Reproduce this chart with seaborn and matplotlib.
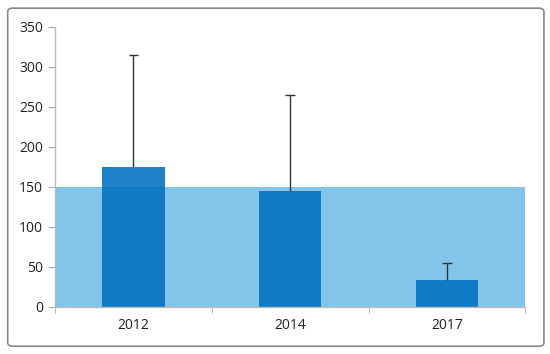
import matplotlib
matplotlib.use("Agg")
import matplotlib.pyplot as plt
import seaborn as sns
import pandas as pd
from matplotlib.patches import FancyBboxPatch

years = ['2012', '2014', '2017']
values = [175, 145, 33]
upper = [315, 265, 54]
band_top = 150

df = pd.DataFrame({'year': years, 'value': values})

sns.set_style('white')
plt.rcParams['font.family'] = ['Open Sans', 'DejaVu Sans']

fig = plt.figure(figsize=(5.5, 3.54), dpi=100)
ax = fig.add_axes([0.1, 0.134, 0.855, 0.79])

ax.axhspan(0, band_top, color='#83C5E8', zorder=1, lw=0)
sns.barplot(data=df, x='year', y='value', color='#0070C0', width=0.4,
            saturation=1, alpha=0.88, ax=ax, zorder=2, errorbar=None, linewidth=0)

# upper-only error bars
xs = list(range(len(years)))
ax.vlines(xs, values, upper, color='#333333', lw=1, zorder=3)
ax.hlines(upper, [x - 0.03 for x in xs], [x + 0.03 for x in xs], color='#333333', lw=1, zorder=3)

ax.set_xlim(-0.5, 2.5)
ax.set_ylim(0, 350)
ax.set_yticks(range(0, 351, 50))
ax.set_xlabel('')
ax.set_ylabel('')
ax.set_xticks([-0.5, 0.5, 1.5, 2.5], minor=True)
ax.tick_params(axis='x', which='major', length=0, labelsize=10, colors='#222222', pad=8)
ax.tick_params(axis='x', which='minor', length=4, color='#AAAAAA', direction='out', bottom=True)
ax.tick_params(axis='y', length=5, color='#AAAAAA', labelsize=10, labelcolor='#222222', left=True)
for s in ['top', 'right']:
    ax.spines[s].set_visible(False)
for s in ['left', 'bottom']:
    ax.spines[s].set_color('#BBBBBB')
    ax.spines[s].set_linewidth(1)

frame = FancyBboxPatch((0.014, 0.022), 0.975, 0.955, boxstyle='round,pad=0,rounding_size=0.01',
                       transform=fig.transFigure, fill=False, ec='#888888', lw=1.2)
fig.patches.append(frame)

fig.savefig('out.png', dpi=100)
